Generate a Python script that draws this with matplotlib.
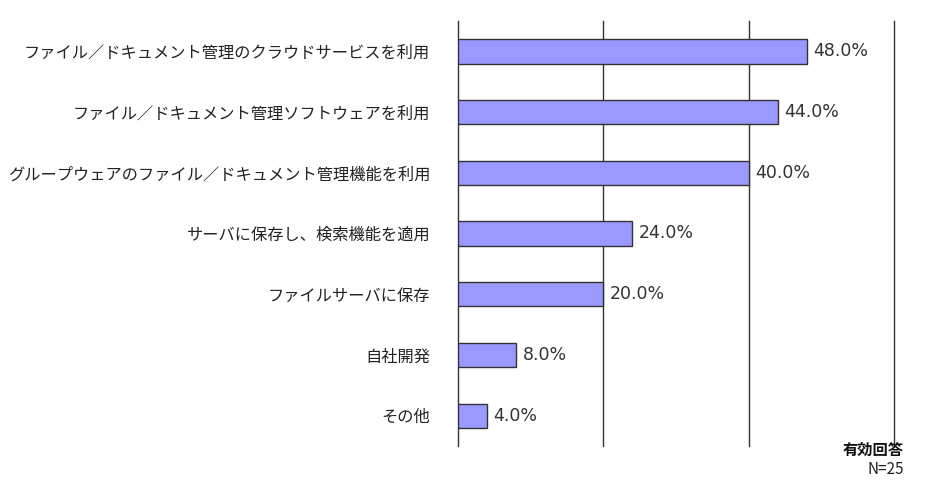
import matplotlib
matplotlib.use("Agg")
import matplotlib.pyplot as plt

plt.rcParams["font.family"] = ["Noto Sans CJK JP", "DejaVu Sans"]

categories = [
    "ファイル／ドキュメント管理のクラウドサービスを利用",
    "ファイル／ドキュメント管理ソフトウェアを利用",
    "グループウェアのファイル／ドキュメント管理機能を利用",
    "サーバに保存し、検索機能を適用",
    "ファイルサーバに保存",
    "自社開発",
    "その他",
]
values = [48.0, 44.0, 40.0, 24.0, 20.0, 8.0, 4.0]
grid_ticks = [0, 20, 40, 60]

fig = plt.figure(figsize=(9.5, 4.95), dpi=100)
ax = fig.add_axes([458 / 950, 1 - 446 / 495, (894 - 458) / 950, 425 / 495])

pos = list(range(len(categories)))
ax.barh(pos, values, height=0.4, color="#9999ff", edgecolor="#333333",
        linewidth=1.0, zorder=3)

for y, v in zip(pos, values):
    ax.text(v + 0.9, y, f"{v:.1f}%", va="center", ha="left",
            fontsize=12.5, color="#333333", family=["DejaVu Sans"])

for g in grid_ticks:
    ax.axvline(g, color="#333333", linewidth=1.0, zorder=1, clip_on=False)

ax.set_xlim(0, 60)
ax.set_ylim(len(categories) - 0.5, -0.5)
ax.set_yticks(pos)
ax.set_yticklabels(categories, fontsize=11.7, color="#222222")
ax.set_xticks([])
ax.tick_params(axis="y", length=0, pad=20)
for s in ax.spines.values():
    s.set_visible(False)

fig.text(904 / 950, 1 - 450 / 495, "有効回答", ha="right", va="center",
         fontsize=11, fontweight="bold", color="#111111")
fig.text(904 / 950, 1 - 469 / 495, "N=25", ha="right", va="center",
         fontsize=11, color="#222222")

fig.savefig("out.png", dpi=100)
